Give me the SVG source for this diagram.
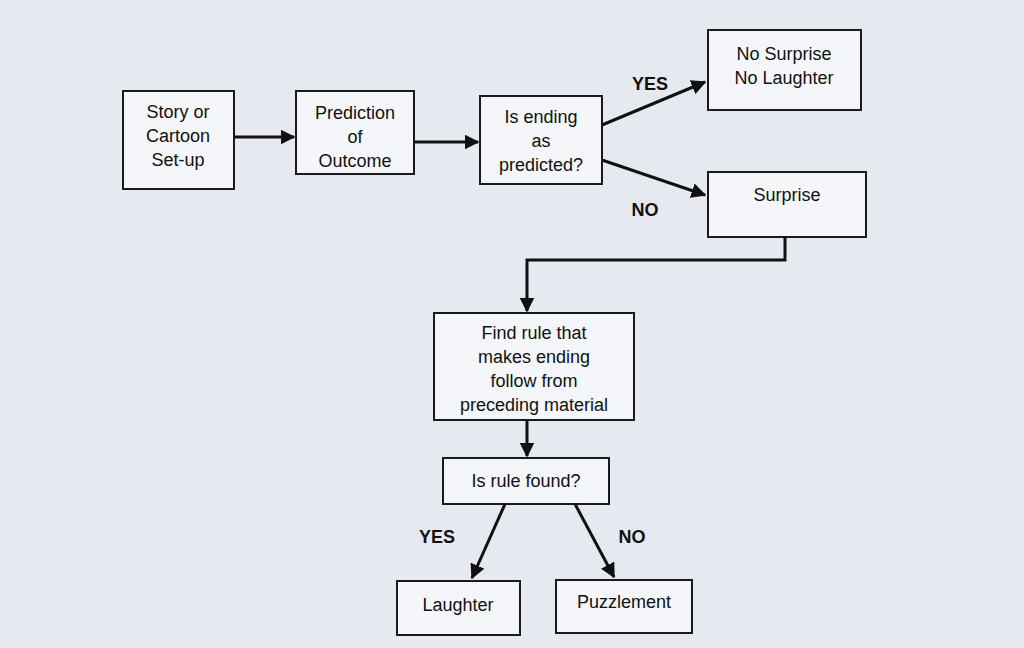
<svg xmlns="http://www.w3.org/2000/svg" width="1024" height="648" viewBox="0 0 1024 648">
<style>
.b{fill:#f4f6f9;stroke:#1a1a1a;stroke-width:2}
.t{font-family:"Liberation Sans",Arial,sans-serif;font-size:18px;fill:#111;text-anchor:middle}
.l{font-family:"Liberation Sans",Arial,sans-serif;font-size:18px;font-weight:bold;fill:#111;text-anchor:middle}
.c{stroke:#111;stroke-width:3;fill:none;marker-end:url(#a)}
</style>
<defs><marker id="a" viewBox="0 0 10 10" refX="9" refY="5" markerWidth="5" markerHeight="5" orient="auto"><path d="M0,0L10,5L0,10z" fill="#111"/></marker></defs>
<rect width="1024" height="648" fill="#e6eaf0"/>
<g id="n1"><rect class="b" x="123" y="91" width="111" height="98"/><text class="t" x="178" y="118">Story or</text><text class="t" x="178" y="142">Cartoon</text><text class="t" x="178" y="166">Set-up</text></g>
<g id="n2"><rect class="b" x="296" y="91" width="118" height="83"/><text class="t" x="355" y="119">Prediction</text><text class="t" x="355" y="143">of</text><text class="t" x="355" y="167">Outcome</text></g>
<g id="n3"><rect class="b" x="480" y="96" width="122" height="88"/><text class="t" x="541" y="123">Is ending</text><text class="t" x="541" y="147">as</text><text class="t" x="541" y="171">predicted?</text></g>
<g id="n4"><rect class="b" x="708" y="30" width="153" height="80"/><text class="t" x="784" y="60">No Surprise</text><text class="t" x="784" y="84">No Laughter</text></g>
<g id="n5"><rect class="b" x="708" y="172" width="158" height="65"/><text class="t" x="787" y="201">Surprise</text></g>
<g id="n6"><rect class="b" x="434" y="313" width="200" height="107"/><text class="t" x="534" y="339">Find rule that</text><text class="t" x="534" y="363">makes ending</text><text class="t" x="534" y="387">follow from</text><text class="t" x="534" y="411">preceding material</text></g>
<g id="n7"><rect class="b" x="443" y="458" width="166" height="46"/><text class="t" x="526" y="487">Is rule found?</text></g>
<g id="n8"><rect class="b" x="397" y="581" width="123" height="54"/><text class="t" x="458" y="611">Laughter</text></g>
<g id="n9"><rect class="b" x="556" y="580" width="136" height="53"/><text class="t" x="624" y="608">Puzzlement</text></g>
<g id="connectors">
<path class="c" d="M234,137H294"/>
<path class="c" d="M414,142H478"/>
<path class="c" d="M602,125L705,82"/>
<path class="c" d="M602,160L705,195"/>
<path class="c" d="M785,237V260H527V311"/>
<path class="c" d="M527,420V456"/>
<path class="c" d="M505,504L472,578"/>
<path class="c" d="M575,504L614,577"/>
<text class="l" x="650" y="90">YES</text>
<text class="l" x="645" y="216">NO</text>
<text class="l" x="437" y="543">YES</text>
<text class="l" x="632" y="543">NO</text>
</g>
</svg>
